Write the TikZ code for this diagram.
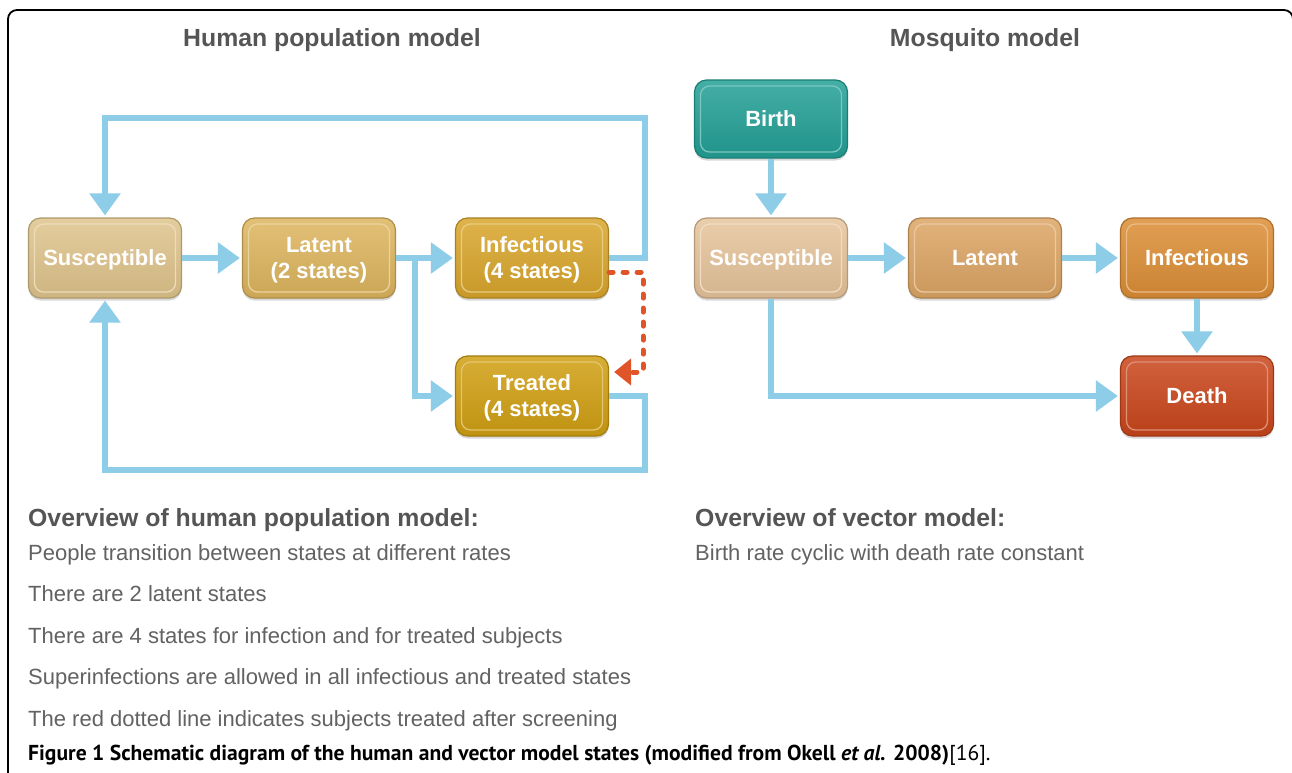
\documentclass[tikz,border=0pt]{standalone}
\usepackage{fontspec}
\setmainfont{Liberation Sans}
\newfontfamily\capfont{PT Sans}
\usetikzlibrary{arrows.meta,shadows}
\definecolor{flowblue}{HTML}{8DCDE8}
\definecolor{reddot}{HTML}{E0542A}
\definecolor{hsusc}{HTML}{DFC48C}
\definecolor{hlatc}{HTML}{DDB55E}
\definecolor{hinfc}{HTML}{D9A62C}
\definecolor{htrec}{HTML}{D09F12}
\definecolor{birthc}{HTML}{23A096}
\definecolor{msusc}{HTML}{E6C49B}
\definecolor{mlatc}{HTML}{DCA564}
\definecolor{minfc}{HTML}{DC8E36}
\definecolor{deathc}{HTML}{C9461B}
\definecolor{headgray}{HTML}{555555}
\definecolor{bodygray}{HTML}{626262}
\tikzset{
  stbox/.style={rounded corners=12pt, minimum width=153pt, minimum height=80pt,
    inner sep=0pt, align=center, text=white, text depth=0pt,
    font=\fontsize{22pt}{26pt}\selectfont\bfseries,
    top color=#1!85!white, bottom color=#1!92!black,
    draw=#1!78!black, line width=1.2pt,
    drop shadow={shadow xshift=0pt, shadow yshift=-2.5pt, opacity=0.3},
    path picture={\draw[#1!60!white, line width=1.3pt, rounded corners=9pt]
      ([shift={(6pt,-6pt)}]path picture bounding box.north west) rectangle
      ([shift={(-6pt,6pt)}]path picture bounding box.south east);}},
  flow/.style={draw=flowblue, line width=6pt,
    -{Triangle[width=30pt,length=22pt,fill=flowblue]}, shorten >=2pt},
  reddash/.style={draw=reddot, line width=5pt, line cap=round,
    dash pattern=on 4pt off 10pt,
    -{Triangle[width=26pt,length=17pt,fill=reddot,line cap=butt]}},
  title/.style={text=headgray, font=\fontsize{24.8pt}{28pt}\selectfont\bfseries, inner sep=0pt},
  head/.style={text=headgray, font=\fontsize{24.8pt}{28pt}\selectfont\bfseries, anchor=base west, inner sep=0pt},
  body/.style={text=bodygray, font=\fontsize{22pt}{26pt}\selectfont, anchor=base west, inner sep=0pt},
}
\begin{document}
\begin{tikzpicture}[x=1pt,y=-1pt]
\useasboundingbox (0,0) rectangle (1292,772);
\fill[white] (0,0) rectangle (1292,772);
% frame
\draw[line width=1.8pt, rounded corners=9pt] (8,800) -- (8,10) -- (1293,10) -- (1293,800);

% titles
\node[title] (t1) at (332,40) {Human population model};
\node[title] (t2) at (985,40) {Mosquito model};

% human model
\node[stbox=hsusc] (hsus) at (105,258) {Susceptible};
\node[stbox=hlatc] (hlat) at (319,258) {Latent\\(2 states)};
\node[stbox=hinfc] (hinf) at (532,258) {Infectious\\(4 states)};
\node[stbox=htrec] (htre) at (532,396) {Treated\\(4 states)};

\coordinate (htop) at (645,118);
\coordinate (hbot) at (645,470);
\coordinate (split) at (415,258);
\coordinate (rcor) at (643,372);

\draw[flow] (hsus) -- (hlat);
\draw[flow] (hlat) -- (hinf);
\draw[flow] (split) |- (htre.west);
\draw[flow] (hinf.east) -| (htop) -| (hsus.north);
\draw[flow] (htre.east) -| (hbot) -| (hsus.south);
\draw[reddash] ([yshift=-14pt]hinf.east) -| (rcor) -- ([xshift=5pt,yshift=24pt]htre.east);

% mosquito model
\node[stbox=birthc, minimum height=78pt] (birth) at (771,119) {Birth};
\node[stbox=msusc] (msus) at (771,258) {Susceptible};
\node[stbox=mlatc] (mlat) at (985,258) {Latent};
\node[stbox=minfc] (minf) at (1197,258) {Infectious};
\node[stbox=deathc] (death) at (1197,396) {Death};

\draw[flow] (birth) -- (msus);
\draw[flow] (msus) -- (mlat);
\draw[flow] (mlat) -- (minf);
\draw[flow] (minf) -- (death);
\draw[flow] (msus.south) |- (death.west);

% overview texts
\node[head] (oh) at (28,526) {Overview of human population model:};
\node[body] (l1) at (28,560) {People transition between states at different rates};
\node[body] (l2) at (28,601.5) {There are 2 latent states};
\node[body] (l3) at (28,643) {There are 4 states for infection and for treated subjects};
\node[body] (l4) at (28,684.5) {Superinfections are allowed in all infectious and treated states};
\node[body] (l5) at (28,726) {The red dotted line indicates subjects treated after screening};

\node[head] (ov) at (695,526) {Overview of vector model:};
\node[body] (v1) at (695,560) {Birth rate cyclic with death rate constant};

% caption
\node[anchor=base west, inner sep=0pt, font=\capfont\fontsize{21.6pt}{24pt}\selectfont] (cap) at (28,760)
  {\textbf{Figure 1 Schematic diagram of the human and vector model states (modified from Okell \textit{et al.} 2008)}[16].};
\end{tikzpicture}
\end{document}
